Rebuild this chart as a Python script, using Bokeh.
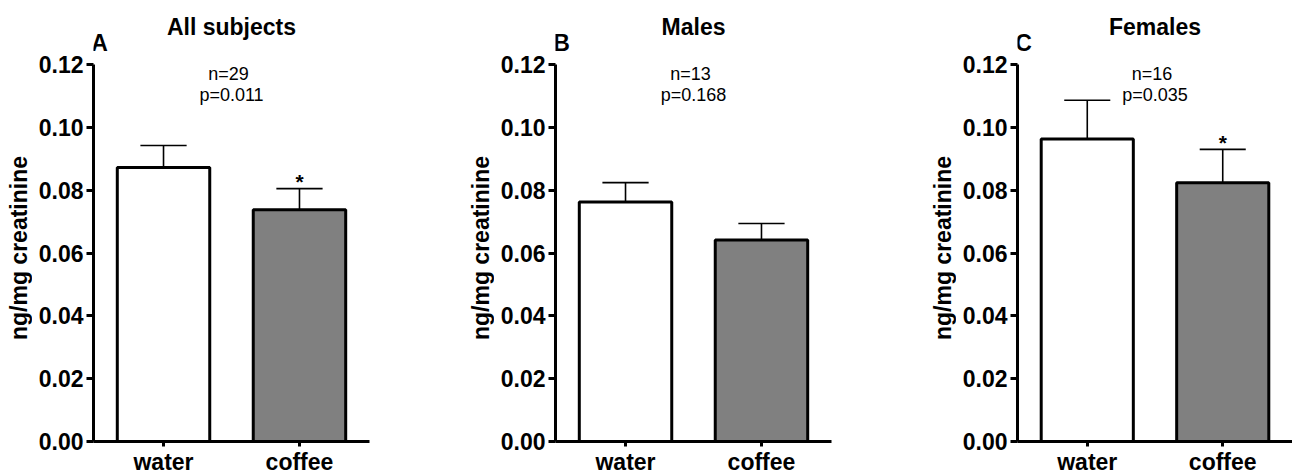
from bokeh.plotting import figure
from bokeh.layouts import row
from bokeh.models import Range1d, FixedTicker, PrintfTickFormatter, Label
from bokeh.core.properties import value
from bokeh.embed import file_html
from bokeh.resources import INLINE

# Urinary levels (ng/mg creatinine), mean and SEM per drink condition
panels = ["All subjects", "Males", "Females"]
letters = ["A", "B", "C"]
n_subjects = [29, 13, 16]
p_values = ["0.011", "0.168", "0.035"]
conditions = ["water", "coffee"]
water_mean = [0.0872, 0.0762, 0.0963]
water_sem = [0.0070, 0.0062, 0.0123]
coffee_mean = [0.0738, 0.0641, 0.0824]
coffee_sem = [0.0067, 0.0053, 0.0106]
significant = [True, False, True]
y_ticks = [0.00, 0.02, 0.04, 0.06, 0.08, 0.10, 0.12]
y_label = "ng/mg creatinine"

FONT = "Liberation Sans"
BIG = "23px"
SMALL = "18px"
FIG_H = 475
AXIS_H = 377          # pixel height of the 0..0.12 axis
TOP_SPACE = 64        # room above the axis for titles
BOTTOM = 34
FRAME_H = AXIS_H + TOP_SPACE
Y_MAX = 0.12
STRIP_W = 32          # strip holding the rotated y-axis title


def make_label_strip():
    s = figure(frame_width=STRIP_W, frame_height=FIG_H,
               min_border_left=0, min_border_right=0,
               min_border_top=0, min_border_bottom=0,
               x_axis_type=None, y_axis_type=None,
               x_range=Range1d(0, 1), y_range=Range1d(0, 1),
               output_backend="svg", toolbar_location=None,
               background_fill_color="white", border_fill_color="white")
    s.outline_line_color = None
    s.grid.visible = False
    s.add_layout(Label(x=18, y=BOTTOM + AXIS_H / 2 + 5, x_units="screen",
                       y_units="screen", text=y_label, angle=90,
                       angle_units="deg", text_font=FONT, text_font_size=BIG,
                       text_font_style="bold", text_color="black",
                       text_align="center", text_baseline="middle"))
    return s


def make_panel(i, last=False):
    frame_w = 275 if last else 276
    p = figure(
        frame_width=frame_w, frame_height=FRAME_H,
        min_border_left=93 - STRIP_W, min_border_right=0 if last else 93,
        min_border_top=0, min_border_bottom=BOTTOM,
        x_range=Range1d(0.485, 2.515),
        y_range=Range1d(0.0, Y_MAX * FRAME_H / AXIS_H),
        output_backend="svg", toolbar_location=None,
        background_fill_color="white", border_fill_color="white",
    )
    p.outline_line_color = None
    p.grid.visible = False

    xs = [1, 2]
    means = [water_mean[i], coffee_mean[i]]
    sems = [water_sem[i], coffee_sem[i]]
    tops = [m + s for m, s in zip(means, sems)]
    cap = 0.17

    # error bars (upper half only)
    p.segment(x0=xs, y0=means, x1=xs, y1=tops, line_color="black", line_width=1.6)
    p.segment(x0=[x - cap for x in xs], y0=tops, x1=[x + cap for x in xs], y1=tops,
              line_color="black", line_width=1.6)

    # bars
    p.vbar(x=xs, top=means, bottom=0, width=0.68,
           fill_color=["white", "#808080"], line_color="black", line_width=3)

    if significant[i]:
        p.text(x=[2], y=[tops[1]], text=["*"], text_font=value(FONT),
               text_font_size="21px", text_font_style="bold", text_color="black",
               text_align="center", text_baseline="alphabetic", y_offset=-7)

    # axes
    yax = p.yaxis[0]
    yax.bounds = (0, Y_MAX)
    yax.ticker = FixedTicker(ticks=y_ticks)
    yax.formatter = PrintfTickFormatter(format="%.2f")
    yax.axis_line_width = 3
    yax.major_tick_line_width = 3
    yax.major_tick_out = 7
    yax.major_tick_in = 0
    yax.minor_tick_line_color = None
    yax.major_label_standoff = 3
    yax.major_label_text_font = FONT
    yax.major_label_text_font_size = BIG
    yax.major_label_text_font_style = "bold"
    yax.major_label_text_color = "black"

    xax = p.xaxis[0]
    xax.ticker = FixedTicker(ticks=xs)
    xax.major_label_overrides = {1: conditions[0], 2: conditions[1]}
    xax.axis_line_width = 3
    xax.major_tick_line_width = 3
    xax.major_tick_out = 5
    xax.major_tick_in = 0
    xax.minor_tick_line_color = None
    xax.major_label_standoff = 2
    xax.major_label_text_font = FONT
    xax.major_label_text_font_size = BIG
    xax.major_label_text_font_style = "bold"
    xax.major_label_text_color = "black"

    # panel title, letter and statistics
    p.add_layout(Label(x=1.5, y=FRAME_H - 26, y_units="screen", text=panels[i],
                       text_font=FONT, text_font_size=BIG, text_font_style="bold",
                       text_color="black", text_align="center",
                       text_baseline="alphabetic"))
    p.add_layout(Label(x=6, y=FRAME_H - 42, x_units="screen", y_units="screen",
                       text=letters[i], text_font=FONT, text_font_size=BIG,
                       text_font_style="bold", text_color="black",
                       text_align="center", text_baseline="alphabetic"))
    p.add_layout(Label(x=1.5, y=AXIS_H - 9, y_units="screen", x_offset=-3,
                       text=f"n={n_subjects[i]}", text_font=FONT,
                       text_font_size=SMALL, text_color="black",
                       text_align="center", text_baseline="alphabetic"))
    p.add_layout(Label(x=1.5, y=AXIS_H - 30, y_units="screen",
                       text=f"p={p_values[i]}", text_font=FONT,
                       text_font_size=SMALL, text_color="black",
                       text_align="center", text_baseline="alphabetic"))
    return p


layout = row(
    make_label_strip(), make_panel(0),
    make_label_strip(), make_panel(1),
    make_label_strip(), make_panel(2, last=True),
)
open("out.html", "w").write(file_html(layout, INLINE))
